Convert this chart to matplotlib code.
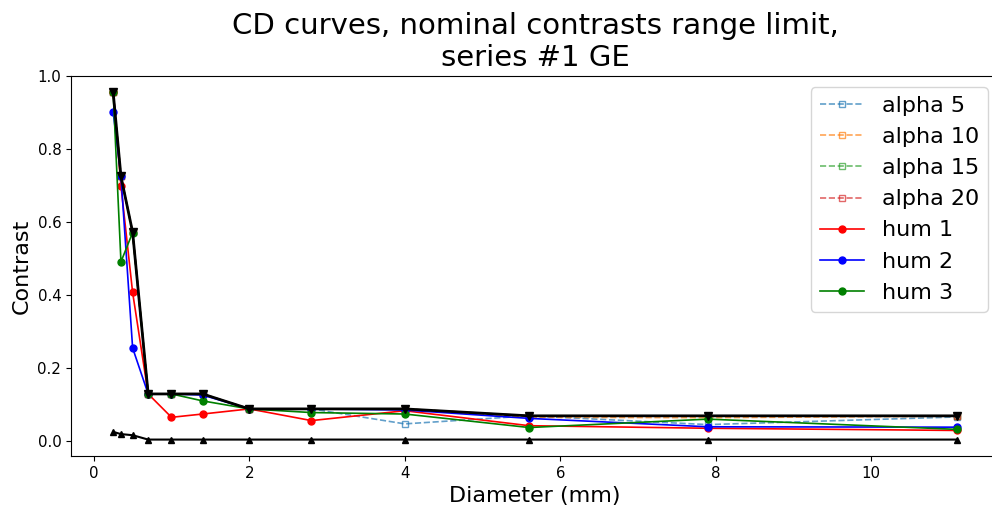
import matplotlib
matplotlib.use("Agg")
import matplotlib.pyplot as plt

# Disc diameters (mm)
diameters = [0.25, 0.35, 0.5, 0.7, 1.0, 1.4, 2.0, 2.8, 4.0, 5.6, 7.9, 11.1]

# Nominal contrast range limits
upper_limit = [0.955, 0.725, 0.572, 0.129, 0.129, 0.129, 0.088, 0.088, 0.088, 0.069, 0.069, 0.069]
lower_limit = [0.025, 0.019, 0.016, 0.004, 0.004, 0.004, 0.004, 0.004, 0.004, 0.004, 0.004, 0.004]

# Model curves
alpha_5 = [0.955, 0.725, 0.572, 0.129, 0.129, 0.129, 0.088, 0.088, 0.047, 0.069, 0.045, 0.066]
alpha_10 = [0.955, 0.725, 0.572, 0.129, 0.129, 0.129, 0.088, 0.088, 0.088, 0.065, 0.064, 0.068]
alpha_15 = [0.955, 0.725, 0.572, 0.129, 0.129, 0.129, 0.088, 0.088, 0.088, 0.069, 0.069, 0.069]
alpha_20 = [0.955, 0.725, 0.572, 0.129, 0.129, 0.129, 0.088, 0.088, 0.088, 0.069, 0.069, 0.069]

# Human observer curves
hum_1 = [0.955, 0.699, 0.407, 0.129, 0.065, 0.074, 0.088, 0.056, 0.083, 0.042, 0.035, 0.029]
hum_2 = [0.901, 0.725, 0.255, 0.129, 0.129, 0.126, 0.088, 0.088, 0.085, 0.062, 0.039, 0.038]
hum_3 = [0.955, 0.491, 0.571, 0.129, 0.129, 0.110, 0.088, 0.078, 0.074, 0.037, 0.060, 0.032]

alpha_series = [("alpha 5", alpha_5, "C0"), ("alpha 10", alpha_10, "C1"),
                ("alpha 15", alpha_15, "C2"), ("alpha 20", alpha_20, "C3")]
hum_series = [("hum 1", hum_1, "red"), ("hum 2", hum_2, "blue"), ("hum 3", hum_3, "green")]

plt.rcParams["xtick.labelsize"] = 10.8
plt.rcParams["ytick.labelsize"] = 10.8

fig = plt.figure(figsize=(9.92, 5.11), dpi=100)
ax = fig.add_axes([71 / 992, 55 / 511, 928 / 992, 380 / 511])

for label, vals, col in alpha_series:
    ax.plot(diameters, vals, linestyle="--", marker="s", mfc="none", color=col,
            alpha=0.7, lw=1.2, ms=5, label=label)

for label, vals, col in hum_series:
    ax.plot(diameters, vals, linestyle="-", marker="o", color=col, lw=1.2, ms=5, label=label)

ax.plot(diameters, upper_limit, color="black", marker="v", lw=2, ms=6)
ax.plot(diameters, lower_limit, color="black", marker="^", lw=1.5, ms=5)

ax.set_ylim(-0.041, 1.0)
ax.set_xlabel("Diameter (mm)", fontsize=16)
ax.set_ylabel("Contrast", fontsize=16)
ax.set_title("CD curves, nominal contrasts range limit,\nseries #1 GE", fontsize=21, pad=7)
ax.legend(loc="upper right", fontsize=16)

fig.savefig("out.png", dpi=100)
